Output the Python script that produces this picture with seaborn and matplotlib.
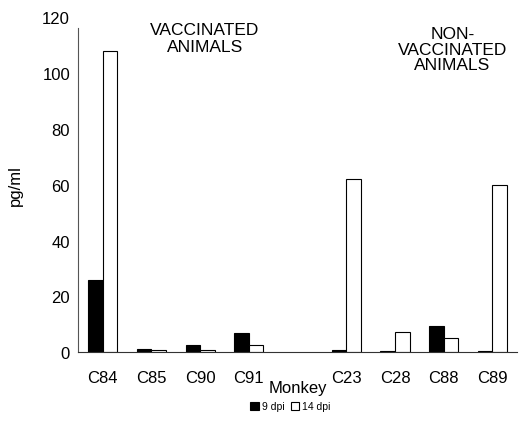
import matplotlib
matplotlib.use("Agg")
import matplotlib.pyplot as plt
import seaborn as sns
import pandas as pd

monkeys = ["C84", "C85", "C90", "C91", "C23", "C28", "C88", "C89"]
dpi9 = [26, 1.0, 2.5, 7.0, 0.7, 0.6, 9.5, 0.6]
dpi14 = [108, 0.7, 0.8, 2.5, 62, 7.3, 5.0, 60]
series = ["9 dpi", "14 dpi"]
slot_order = ["C84", "C85", "C90", "C91", " ", "C23", "C28", "C88", "C89"]

sns.set_theme(style="white")
plt.rcParams['font.family'] = ['Liberation Sans', 'DejaVu Sans']
plt.rcParams['text.color'] = 'black'
plt.rcParams['axes.labelcolor'] = 'black'
plt.rcParams['xtick.color'] = 'black'
plt.rcParams['ytick.color'] = 'black'

df = pd.DataFrame({
    "Monkey": monkeys * 2,
    "value": dpi9 + dpi14,
    "series": [series[0]] * len(monkeys) + [series[1]] * len(monkeys),
})

fig = plt.figure(figsize=(5.23, 4.35), dpi=100)
ax = fig.add_axes([0.150, 0.188, 0.838, 0.770])
sns.barplot(data=df, x="Monkey", y="value", hue="series", order=slot_order,
            hue_order=series, palette=["black", "white"], edgecolor="black",
            linewidth=0.8, width=0.6, ax=ax, saturation=1)

ax.set_ylim(0, 120)
ax.set_xlim(-0.5, 8.5)
ax.set_yticks([0, 20, 40, 60, 80, 100, 120])
ax.tick_params(axis="both", labelsize=12, length=0, pad=6)
ax.tick_params(axis="x", pad=13)
for s in ["top", "right"]:
    ax.spines[s].set_visible(False)
ax.spines["left"].set_bounds(0, 116)
ax.spines["left"].set_color("#555555")
ax.spines["bottom"].set_color("#333333")
ax.spines["left"].set_linewidth(0.8)
ax.spines["bottom"].set_linewidth(0.8)

ax.set_ylabel("pg/ml", fontsize=12, labelpad=14)
ax.set_xlabel("Monkey", fontsize=12, labelpad=-4)

ax.text(2.1, 112.6, "VACCINATED\nANIMALS", ha="center", va="center",
        fontsize=12.5, linespacing=1.1, fontweight="medium")
ax.text(7.18, 108.6, "NON-\nVACCINATED\nANIMALS", ha="center", va="center",
        fontsize=12.5, linespacing=1.05, fontweight="medium")

sns.move_legend(ax, "center", bbox_to_anchor=(0.555, 0.064),
                bbox_transform=fig.transFigure, ncol=2, frameon=False,
                title=None, fontsize=7.5, handlelength=0.8, handleheight=0.8,
                handletextpad=0.3, columnspacing=0.6)

fig.savefig("out.png", dpi=100)
